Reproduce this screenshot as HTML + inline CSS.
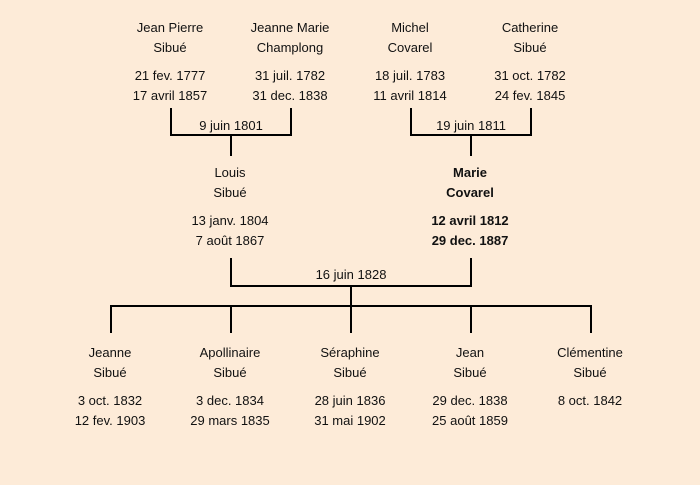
<!DOCTYPE html>
<html><head><meta charset="utf-8"><style>
body{margin:0;width:700px;height:485px;background:#fdebd8;position:relative;overflow:hidden;font-family:"Liberation Sans","DejaVu Sans",sans-serif;font-size:13px;color:#111}
.t{position:absolute;width:140px;text-align:center;line-height:20px;white-space:nowrap}
.b{font-weight:bold}
svg{position:absolute;left:0;top:0}
</style></head><body>
<svg width="700" height="485"><g stroke="#000" stroke-width="2" fill="none">
<path d="M171,108V135H291V108M231,135V156"/>
<path d="M411,108V135H531V108M471,135V156"/>
<path d="M231,258V286H471V258M351,286V306"/>
<path d="M111,333V306H591V333M231,306V333M351,306V333M471,306V333"/>
</g></svg>
<div class="t" style="left:100px;top:18px">Jean Pierre<br>Sibué</div>
<div class="t" style="left:100px;top:66px">21 fev. 1777<br>17 avril 1857</div>
<div class="t" style="left:220px;top:18px">Jeanne Marie<br>Champlong</div>
<div class="t" style="left:220px;top:66px">31 juil. 1782<br>31 dec. 1838</div>
<div class="t" style="left:340px;top:18px">Michel<br>Covarel</div>
<div class="t" style="left:340px;top:66px">18 juil. 1783<br>11 avril 1814</div>
<div class="t" style="left:460px;top:18px">Catherine<br>Sibué</div>
<div class="t" style="left:460px;top:66px">31 oct. 1782<br>24 fev. 1845</div>
<div class="t" style="left:161px;top:116px">9 juin 1801</div>
<div class="t" style="left:401px;top:116px">19 juin 1811</div>
<div class="t" style="left:160px;top:163px">Louis<br>Sibué</div>
<div class="t" style="left:160px;top:211px">13 janv. 1804<br>7 août 1867</div>
<div class="t b" style="left:400px;top:163px">Marie<br>Covarel</div>
<div class="t b" style="left:400px;top:211px">12 avril 1812<br>29 dec. 1887</div>
<div class="t" style="left:281px;top:265px">16 juin 1828</div>
<div class="t" style="left:40px;top:343px">Jeanne<br>Sibué</div>
<div class="t" style="left:40px;top:391px">3 oct. 1832<br>12 fev. 1903</div>
<div class="t" style="left:160px;top:343px">Apollinaire<br>Sibué</div>
<div class="t" style="left:160px;top:391px">3 dec. 1834<br>29 mars 1835</div>
<div class="t" style="left:280px;top:343px">Séraphine<br>Sibué</div>
<div class="t" style="left:280px;top:391px">28 juin 1836<br>31 mai 1902</div>
<div class="t" style="left:400px;top:343px">Jean<br>Sibué</div>
<div class="t" style="left:400px;top:391px">29 dec. 1838<br>25 août 1859</div>
<div class="t" style="left:520px;top:343px">Clémentine<br>Sibué</div>
<div class="t" style="left:520px;top:391px">8 oct. 1842</div>
</body></html>
